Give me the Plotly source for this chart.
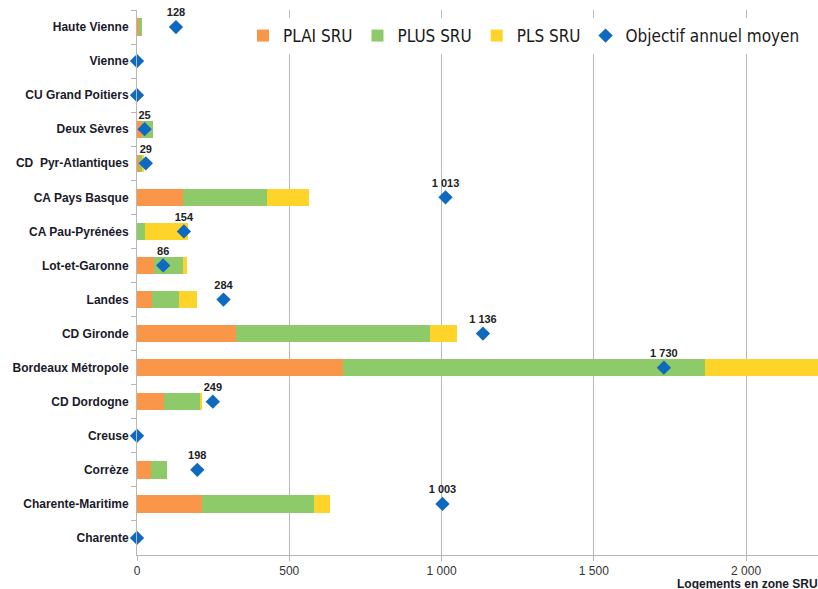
import plotly.graph_objects as go

categories = ["Haute Vienne", "Vienne", "CU Grand Poitiers", "Deux Sèvres", "CD  Pyr-Atlantiques",
              "CA Pays Basque", "CA Pau-Pyrénées", "Lot-et-Garonne", "Landes", "CD Gironde",
              "Bordeaux Métropole", "CD Dordogne", "Creuse", "Corrèze", "Charente-Maritime", "Charente"]
plai = [6, 0, 0, 18, 8, 152, 0, 55, 48, 325, 678, 87, 0, 47, 214, 0]
plus = [10, 0, 0, 36, 9, 274, 27, 95, 90, 637, 1186, 122, 0, 51, 368, 0]
pls = [0, 0, 0, 0, 6, 139, 140, 15, 59, 88, 450, 2, 0, 0, 51, 0]
objectif = [128, 0, 0, 25, 29, 1013, 154, 86, 284, 1136, 1730, 249, 0, 198, 1003, 0]
x_ticks = [0, 500, 1000, 1500, 2000]
x_ticklabels = ["0", "500", "1 000", "1 500", "2 000"]

obj_text = [f"{v:,}".replace(",", " ") if v else "" for v in objectif]

L, T, PW, PH, B = 137, 10, 681, 545, 34

fig = go.Figure()
fig.add_trace(go.Bar(y=categories, x=plai, orientation="h", name="PLAI SRU",
                     marker=dict(color="#f9964a", line=dict(width=0))))
fig.add_trace(go.Bar(y=categories, x=plus, orientation="h", name="PLUS SRU",
                     marker=dict(color="#8ec96a", line=dict(width=0))))
fig.add_trace(go.Bar(y=categories, x=pls, orientation="h", name="PLS SRU",
                     marker=dict(color="#ffd42a", line=dict(width=0))))
fig.add_trace(go.Scatter(y=categories, x=objectif, mode="markers+text", name="Objectif annuel moyen",
                         marker=dict(symbol="diamond", size=11, color="#0e69bf"),
                         text=obj_text, textposition="top center",
                         textfont=dict(family="Liberation Sans", size=11, color="#222222", weight="bold"),
                         cliponaxis=False))

fig.update_layout(
    width=L + PW, height=T + PH + B,
    margin=dict(l=L, r=0, t=T, b=B, autoexpand=False),
    barmode="stack", bargap=0.49,
    plot_bgcolor="white", paper_bgcolor="white",
    separators=", ",
    font=dict(family="Liberation Sans", color="#333333"),
    showlegend=True,
    legend=dict(orientation="h", x=(243 - L) / PW, y=1 - (36 - T) / PH, xanchor="left", yanchor="middle",
                bgcolor="white", traceorder="normal",
                font=dict(family="DejaVu Sans Condensed, DejaVu Sans", size=17, color="#1a1a1a"),
                itemwidth=30),
    xaxis=dict(range=[0, 2236], tickvals=x_ticks, ticktext=x_ticklabels,
               showgrid=True, gridcolor="#b8b8b8", gridwidth=1,
               showline=True, linecolor="#b8b8b8", ticks="outside", ticklen=5, tickcolor="#b8b8b8",
               tickfont=dict(family="Liberation Sans", size=12, color="#333333"),
               zeroline=False, automargin=False),
    yaxis=dict(type="category", range=[15.5, -0.5], showline=True, linecolor="#b8b8b8",
               ticks="outside", ticklen=5, tickcolor="#b8b8b8", tickson="boundaries",
               showgrid=False, automargin=False, ticklabelstandoff=5,
               tickfont=dict(family="Liberation Sans", size=12, color="#1a1a2a", weight="bold")),
    annotations=[dict(text="<b>Logements en zone SRU</b>", xref="paper", yref="paper",
                      x=(675 - L) / PW, y=-(583.5 - 555) / PH, xanchor="left", yanchor="middle",
                      showarrow=False, font=dict(family="Liberation Sans", size=12, color="#1a1a2a"))],
)

fig.write_html("out.html", config={"displayModeBar": False},
               post_script="document.body.style.margin='0';document.body.style.overflow='hidden';")
